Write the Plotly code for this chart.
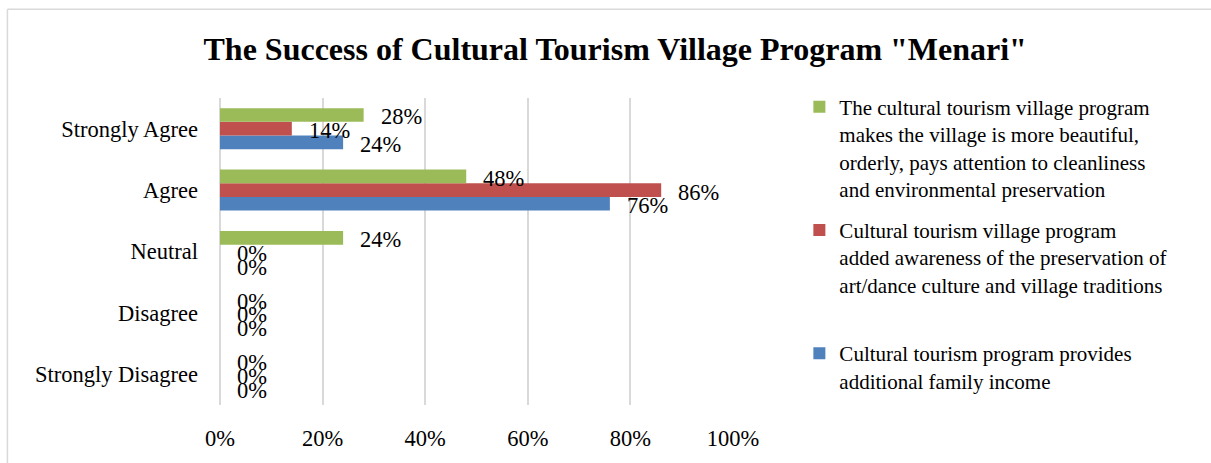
import plotly.graph_objects as go

categories = ["Strongly Agree", "Agree", "Neutral", "Disagree", "Strongly Disagree"]

series_names = [
    "Cultural tourism program provides<br>additional family income",
    "Cultural tourism village program<br>added awareness of the preservation of<br>art/dance culture and village traditions<br> ",
    "The cultural tourism village program<br>makes the village is more beautiful,<br>orderly, pays attention to cleanliness<br>and environmental preservation",
]
income_values = [24, 76, 0, 0, 0]
awareness_values = [14, 86, 0, 0, 0]
beautiful_values = [28, 48, 24, 0, 0]

colors = ["#4F81BD", "#C0504D", "#9BBB59"]
tick_vals = [0, 20, 40, 60, 80, 100]
tick_text = ["0%", "20%", "40%", "60%", "80%", "100%"]

FONT = "Liberation Serif, Times New Roman, serif"
AX_SIZE = 22.5
LEG_SIZE = 21

L, R_EDGE, T, B_EDGE = 219.5, 733.5, 97.5, 408.5
W, H = 1211, 463
pw, ph = R_EDGE - L, B_EDGE - T
BARGAP = 0.333

def px_x(p):
    return (p - L) / pw

def px_y(p):
    return (B_EDGE - p) / ph

all_values = [income_values, awareness_values, beautiful_values]

fig = go.Figure()
n = len(all_values)
for i, (name, vals, col) in enumerate(zip(series_names, all_values, colors)):
    fig.add_trace(go.Bar(
        y=categories, x=vals, orientation="h", name=name,
        marker=dict(color=col, line=dict(width=0)),
        legendgroup=name, legendrank=n - i, hoverinfo="x+y",
    ))

# value labels placed just outside each bar end (positions derived from data + group layout)
cat_px = ph / len(categories)
bar_px = cat_px * (1 - BARGAP) / n
annotations = []
for i, vals in enumerate(all_values):
    offset = (i - (n - 1) / 2) * bar_px
    for cat, v in zip(categories, vals):
        annotations.append(dict(
            x=v, y=cat, xref="x", yref="y", text=f"{v}%", showarrow=False,
            xanchor="left", yanchor="middle", xshift=15, yshift=offset - 2,
            font=dict(family=FONT, size=AX_SIZE, color="black"),
        ))

fig.update_layout(
    width=W, height=H,
    margin=dict(l=L, r=W - R_EDGE, t=T, b=H - B_EDGE, pad=0),
    paper_bgcolor="white", plot_bgcolor="white",
    barmode="group", bargap=BARGAP, bargroupgap=0,
    font=dict(family=FONT, size=AX_SIZE, color="black"),
    title=dict(text='<b>The Success of Cultural Tourism Village Program "Menari"</b>',
               x=0.508, xanchor="center", y=0.895, yanchor="middle",
               xref="container", yref="container",
               font=dict(family=FONT, size=32, color="black")),
    xaxis=dict(range=[0, 100], tickvals=tick_vals, ticktext=tick_text,
               showgrid=True, gridcolor="#D9D9D9", gridwidth=1.5,
               zeroline=True, zerolinecolor="#D9D9D9", zerolinewidth=1.5,
               showline=False, ticks="", ticklabelstandoff=17,
               tickfont=dict(family=FONT, size=AX_SIZE, color="black"), fixedrange=True),
    yaxis=dict(categoryorder="array", categoryarray=categories[::-1],
               showgrid=False, zeroline=False, showline=False, ticks="",
               ticklabelstandoff=21,
               tickfont=dict(family=FONT, size=AX_SIZE, color="black")),
    legend=dict(x=px_x(800), xanchor="left", y=px_y(86), yanchor="top",
                traceorder="grouped", valign="top", tracegroupgap=11,
                maxheight=420,
                font=dict(family=FONT, size=LEG_SIZE, color="black"),
                bgcolor="rgba(0,0,0,0)"),
    showlegend=True,
    annotations=annotations,
    shapes=[
        dict(type="line", xref="paper", yref="paper",
             x0=px_x(6.5), x1=px_x(1220), y0=px_y(7.5), y1=px_y(7.5),
             line=dict(color="#D9D9D9", width=1.5)),
        dict(type="line", xref="paper", yref="paper",
             x0=px_x(6.5), x1=px_x(6.5), y0=px_y(7.5), y1=px_y(470),
             line=dict(color="#D9D9D9", width=1.5)),
    ],
)

fig.write_html("out.html")
